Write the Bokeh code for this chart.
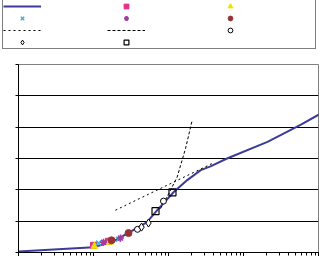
from bokeh.plotting import figure
from bokeh.layouts import column
from bokeh.models import Legend, LegendItem, FixedTicker, LogTicker, CustomJSTickFormatter
from bokeh.embed import file_html
from bokeh.resources import INLINE

# main curve
curve_x = [1, 10, 18.6, 30.9, 51.3, 70.8, 117.5, 177.8, 269.2, 363, 603, 2089, 5754, 11749]
curve_y = [0.03, 0.17, 0.36, 0.66, 0.96, 1.35, 1.93, 2.31, 2.63, 2.75, 3.0, 3.53, 4.07, 4.49]

# marker series
pink_x = [10.0, 15.8]
pink_y = [0.23, 0.36]
yellow_x = [10.3, 16.3]
yellow_y = [0.20, 0.33]
cyan_x = [11.7, 21.5]
cyan_y = [0.30, 0.42]
purple_x = [13.6, 22.9]
purple_y = [0.33, 0.46]
brown_x = [17.4, 29.3]
brown_y = [0.39, 0.62]
circle_x = [38.6, 85.7]
circle_y = [0.74, 1.64]
diamond_x = [43.7, 54.1]
diamond_y = [0.81, 0.94]
square_x = [67.1, 113.0]
square_y = [1.32, 1.92]

# trend lines
shallow_x = [19.6, 398]
shallow_y = [1.35, 2.86]
steep_x = [78.2, 100.9, 130.6, 168.7, 207.0]
steep_y = [1.40, 1.88, 2.41, 3.32, 4.22]

STYLES = {
    "curve": dict(kind="line", line_color="#3B3B98", line_width=2),
    "shallow": dict(kind="line", line_color="black", line_width=1, line_dash="2 3"),
    "steep": dict(kind="line", line_color="black", line_width=1, line_dash="3 2"),
    "pink": dict(kind="scatter", marker="square", size=6, fill_color="#E0338A", line_color="#E0338A"),
    "yellow": dict(kind="scatter", marker="triangle", size=7, fill_color="#F2E000", line_color="#F2E000"),
    "cyan": dict(kind="scatter", marker="x", size=7, line_color="#33B5E5", line_width=1.5),
    "purple": dict(kind="scatter", marker="asterisk", size=7, line_color="#A03CA0", line_width=1.5),
    "brown": dict(kind="scatter", marker="circle", size=7, fill_color="#993333", line_color="#993333"),
    "circle": dict(kind="scatter", marker="circle", size=6, fill_color="white", line_color="black"),
    "diamond": dict(kind="scatter", marker="diamond", size=8, fill_color="white", line_color="black"),
    "square": dict(kind="scatter", marker="square", size=7, fill_color=None, line_color="black", line_width=1.2),
}
DATA = {
    "curve": (curve_x, curve_y), "shallow": (shallow_x, shallow_y), "steep": (steep_x, steep_y),
    "pink": (pink_x, pink_y), "yellow": (yellow_x, yellow_y), "cyan": (cyan_x, cyan_y),
    "purple": (purple_x, purple_y), "brown": (brown_x, brown_y), "circle": (circle_x, circle_y),
    "diamond": (diamond_x, diamond_y), "square": (square_x, square_y),
}
# legend grid is filled column by column (4 rows x 3 columns)
LEGEND_ORDER = ["curve", "cyan", "shallow", "diamond",
                "pink", "purple", "steep", "square",
                "yellow", "brown", "circle"]


def draw(fig, name):
    xs, ys = DATA[name]
    st = dict(STYLES[name])
    kind = st.pop("kind")
    if kind == "line":
        return fig.line(xs, ys, **st)
    return fig.scatter(xs, ys, **st)


# ---- main chart ----
p = figure(width=324, height=206, x_axis_type="log", x_range=(1, 10000), y_range=(0, 6),
           output_backend="svg", toolbar_location=None,
           min_border_left=18, min_border_right=6, min_border_top=14, min_border_bottom=4)
p.frame_align = False
p.background_fill_color = "white"
p.border_fill_color = "white"
p.outline_line_color = "#808080"
p.xgrid.visible = False
p.ygrid.grid_line_color = "black"
p.ygrid.grid_line_width = 1
p.yaxis.ticker = FixedTicker(ticks=[0, 1, 2, 3, 4, 5, 6])
p.xaxis.ticker = LogTicker(num_minor_ticks=10)
blank = CustomJSTickFormatter(code="return '';")
for ax in (p.xaxis, p.yaxis):
    ax.formatter = blank
    ax.axis_line_color = "black"
    ax.major_tick_line_color = "black"
    ax.minor_tick_line_color = "black"
    ax.major_label_text_font_size = "1px"
    ax.major_label_standoff = 0
    ax.major_tick_in = 0
    ax.minor_tick_in = 0
p.xaxis.major_tick_out = 4
p.xaxis.minor_tick_out = 3
p.yaxis.major_tick_out = 3
p.yaxis.minor_tick_out = 0

for name in ["curve", "shallow", "steep", "pink", "yellow", "cyan", "purple",
             "brown", "circle", "diamond", "square"]:
    draw(p, name)

# ---- legend strip (symbols only, as in the reference) ----
# same series drawn again, but the view range is kept away from the data so only the legend shows
lg = figure(width=324, height=50, x_range=(-2, -1), y_range=(-2, -1),
            output_backend="svg", toolbar_location=None,
            x_axis_location=None, y_axis_location=None, min_border=0)
lg.frame_align = False
lg.grid.visible = False
lg.outline_line_color = None
lg.background_fill_color = "white"
lg.border_fill_color = "white"

items = [LegendItem(label=" ", renderers=[draw(lg, name)]) for name in LEGEND_ORDER]

legend = Legend(items=items, ncols=3, location=(2, 1),
                glyph_width=38, glyph_height=12, label_width=66, label_height=12,
                label_standoff=0, spacing=0, padding=0, margin=0,
                label_text_font_size="6px",
                border_line_color="black", border_line_width=1,
                background_fill_color="white", background_fill_alpha=1)
lg.add_layout(legend, "center")

layout = column(lg, p, spacing=0)
open("out.html", "w").write(file_html(layout, INLINE))
